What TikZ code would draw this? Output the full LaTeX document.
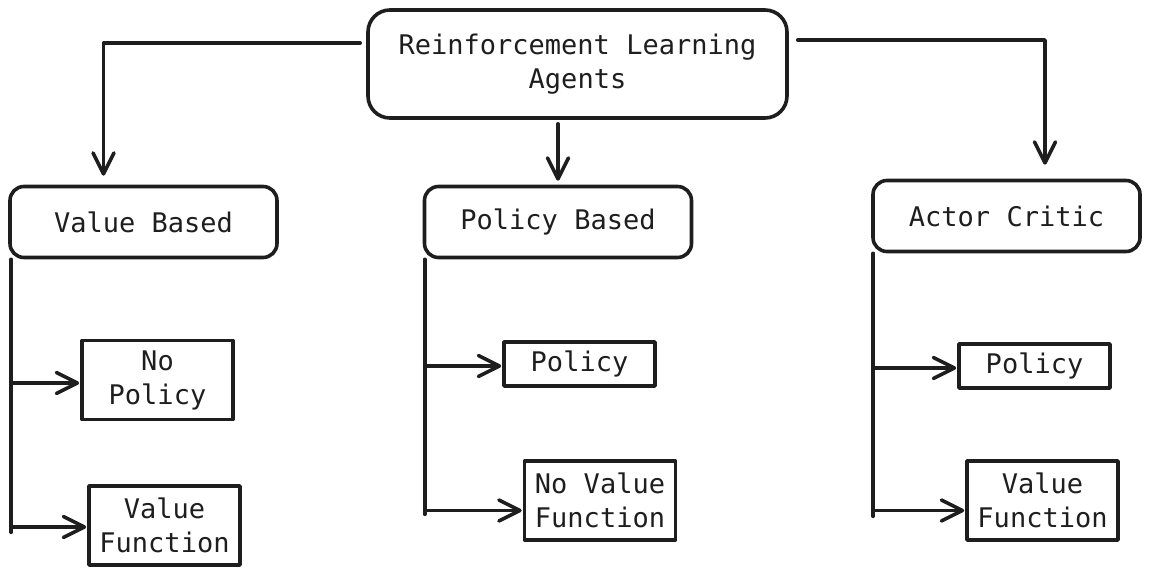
\documentclass[tikz,border=0pt]{standalone}
\usepackage{fontspec}
\setmonofont{DejaVu Sans Mono}
\usetikzlibrary{positioning,arrows.meta}
\definecolor{ink}{HTML}{1E1E1E}

\begin{document}
\begin{tikzpicture}[x=1pt,y=-1pt,-,>={Straight Barb[length=21pt,width=21pt,round]},shorten >=1pt,node distance=158pt,line width=3.6pt,line cap=round,line join=round,color=ink,
    main node/.style={draw,rounded corners=14pt,minimum width=267pt,minimum height=71pt,inner sep=0pt,align=center,font=\ttfamily\fontsize{27}{34}\selectfont},
    leaf node/.style={draw,minimum width=151pt,minimum height=44pt,inner sep=0pt,align=center,font=\ttfamily\fontsize{27}{34}\selectfont}]

            \useasboundingbox (0,0) rectangle (1150,575);

            \node[main node, minimum width=419pt, minimum height=108pt, rounded corners=22pt] (1) at (577.5,64) {Reinforcement Learning\\Agents};
            \node[main node] (2) [below of = 1, xshift=-434]{Value Based};
            \node[main node] (3) [below of = 1, xshift=-19.5]{Policy Based};
            \node[main node] (4) [below of = 1, xshift=429, yshift=6]{Actor Critic};

            \node[leaf node, minimum height=79pt] (2a) [below of = 2, xshift=14]{No\\Policy};
            \node[leaf node, minimum height=79pt] (2b) [below of = 2a, xshift=7, yshift=12.5]{Value\\Function};
            \node[leaf node] (3a) [below of = 3, xshift=21.5, yshift=16]{Policy};
            \node[leaf node, minimum height=79pt] (3b) [below of = 3a, xshift=20.5, yshift=21.5]{No Value\\Function};
            \node[leaf node] (4a) [below of = 4, xshift=28, yshift=8]{Policy};
            \node[leaf node, minimum height=79pt] (4b) [below of = 4a, xshift=8, yshift=23.5]{Value\\Function};

            % from the root
            \draw[->] ([xshift=-6,yshift=21]1.west) -| ([xshift=-40,yshift=8]2.north);
            \draw[->] ([yshift=-4]3.north |- 1.south) -- ([yshift=3]3.north);
            \draw[->] ([xshift=9,yshift=24]1.east) -| ([xshift=38.5,yshift=13]4.north);

            % trunks
            \draw ([xshift=3]2.south west) -- ++(0,274);
            \draw ([xshift=2]3.south west) -- ++(0,256);
            \draw ([xshift=2]4.south west) -- ++(0,264);

            \draw[->] ([xshift=3,yshift=-3]2.south west |- 2a.west) -- ([yshift=-3]2a.west);
            \draw[->] ([xshift=3,yshift=-1.5]2.south west |- 2b.west) -- ([yshift=-1.5]2b.west);
            \draw[->] ([xshift=2,yshift=-2]3.south west |- 3a.west) -- ([yshift=-2]3a.west);
            \draw[->] ([xshift=2,yshift=-10]3.south west |- 3b.west) -- ([yshift=-10]3b.west);
            \draw[->] ([xshift=2,yshift=-2]4.south west |- 4a.west) -- ([yshift=-2]4a.west);
            \draw[->] ([xshift=2,yshift=-10]4.south west |- 4b.west) -- ([yshift=-10]4b.west);
        \end{tikzpicture}
\end{document}
